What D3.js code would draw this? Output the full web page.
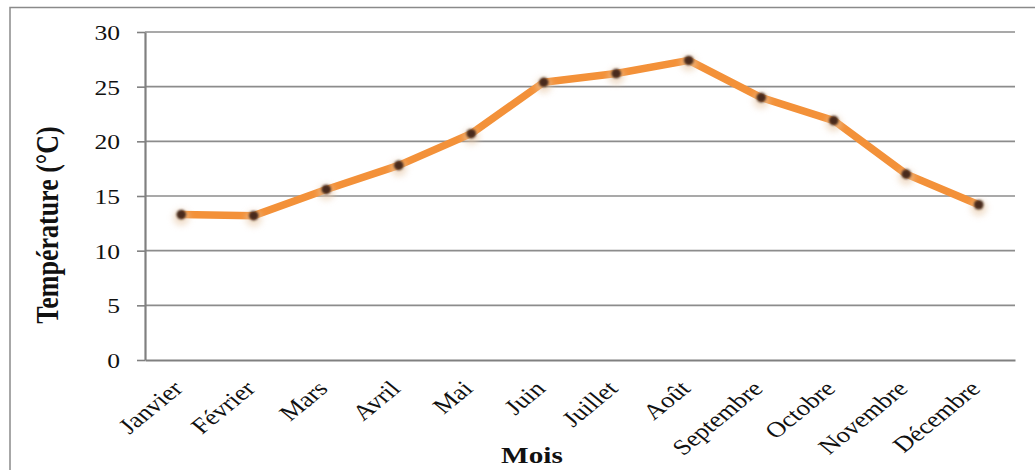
<!DOCTYPE html>
<html>
<head>
<meta charset="utf-8">
<script src="https://cdn.jsdelivr.net/npm/d3@7"></script>
<style>
  body { margin: 0; background: #fff; }
  svg text { font-family: "Liberation Serif", "Times New Roman", serif; fill: #111; }
</style>
</head>
<body>
<svg id="chart" width="1035" height="470"></svg>
<script>
// Monthly mean temperature (°C)
const months = ["Janvier", "Février", "Mars", "Avril", "Mai", "Juin",
                "Juillet", "Août", "Septembre", "Octobre", "Novembre", "Décembre"];
const temperatures = [13.3, 13.2, 15.6, 17.8, 20.7, 25.4, 26.2, 27.4, 24.0, 21.9, 17.0, 14.2];
const yTicks = [0, 5, 10, 15, 20, 25, 30];

const svg = d3.select("#chart");
const plot = { left: 145, right: 1015, top: 32, bottom: 360 };
const stretch = 1.22; // horizontal widening of the type

const x = d3.scaleBand().domain(months).range([plot.left, plot.right]);
const y = d3.scaleLinear().domain([0, 30]).range([plot.bottom, plot.top]);
const cx = m => x(m) + x.bandwidth() / 2;

// Frame around the figure
svg.append("rect")
  .attr("x", 10).attr("y", 7.5).attr("width", 1040).attr("height", 480)
  .attr("fill", "none").attr("stroke", "#8a8a8a").attr("stroke-width", 1.5);

// Horizontal gridlines
svg.append("g").selectAll("line")
  .data(yTicks.filter(t => t > 0))
  .join("line")
  .attr("x1", plot.left).attr("x2", plot.right)
  .attr("y1", d => y(d)).attr("y2", d => y(d))
  .attr("stroke", "#8c8c8c").attr("stroke-width", 1.6);

// Y axis
const yAxis = svg.append("g")
  .attr("transform", `translate(${plot.left},0)`)
  .call(d3.axisLeft(y).tickValues(yTicks).tickSize(8).tickSizeOuter(0));
yAxis.select(".domain").attr("stroke", "#808080").attr("stroke-width", 2.2);
yAxis.selectAll(".tick line").attr("stroke", "#808080").attr("stroke-width", 1.6);
yAxis.selectAll(".tick text")
  .attr("x", 0).attr("dy", "0.36em")
  .attr("transform", `translate(-25,0) scale(${stretch},1)`)
  .style("font-size", "21px")
  .attr("fill", "#111");

// X axis
const xAxis = svg.append("g")
  .attr("transform", `translate(0,${plot.bottom})`)
  .call(d3.axisBottom(x).tickSize(0).tickSizeOuter(0));
xAxis.select(".domain").attr("stroke", "#808080").attr("stroke-width", 2.2);
xAxis.selectAll(".tick text")
  .attr("x", 0).attr("y", 0).attr("dy", 0)
  .attr("text-anchor", "end")
  .attr("transform", `translate(3,30) scale(${stretch},1) rotate(-45)`)
  .style("font-size", "22px")
  .attr("fill", "#111");

// Soft halo for the point markers
const defs = svg.append("defs");
defs.append("filter").attr("id", "soft")
  .attr("x", "-100%").attr("y", "-100%").attr("width", "300%").attr("height", "300%")
  .append("feGaussianBlur").attr("stdDeviation", 1.1);
defs.append("filter").attr("id", "halo")
  .attr("x", "-100%").attr("y", "-100%").attr("width", "300%").attr("height", "300%")
  .append("feGaussianBlur").attr("stdDeviation", 3);

const pts = months.map((m, i) => [cx(m), y(temperatures[i])]);

// Temperature line
svg.append("path")
  .datum(pts)
  .attr("d", d3.line())
  .attr("fill", "none")
  .attr("stroke", "#f39139")
  .attr("stroke-width", 7.5)
  .attr("stroke-linejoin", "round");

// Markers
svg.append("g").selectAll("circle.halo")
  .data(pts).join("circle")
  .attr("cx", d => d[0]).attr("cy", d => d[1] + 3).attr("r", 8)
  .attr("fill", "#e8c9a8").attr("opacity", 0.6).attr("filter", "url(#halo)");
svg.append("g").selectAll("circle.dot")
  .data(pts).join("circle")
  .attr("cx", d => d[0]).attr("cy", d => d[1]).attr("r", 4.8)
  .attr("fill", "#4a2a1a").attr("filter", "url(#soft)");

// Axis titles
svg.append("text")
  .attr("text-anchor", "middle")
  .attr("transform", `translate(58,225) scale(${stretch},1) rotate(-90)`)
  .style("font-size", "26px").style("font-weight", "bold")
  .text("Température (°C)");

svg.append("text")
  .attr("text-anchor", "middle")
  .attr("transform", `translate(532,463) scale(${stretch},1)`)
  .style("font-size", "24px").style("font-weight", "bold")
  .text("Mois");
</script>
</body>
</html>
